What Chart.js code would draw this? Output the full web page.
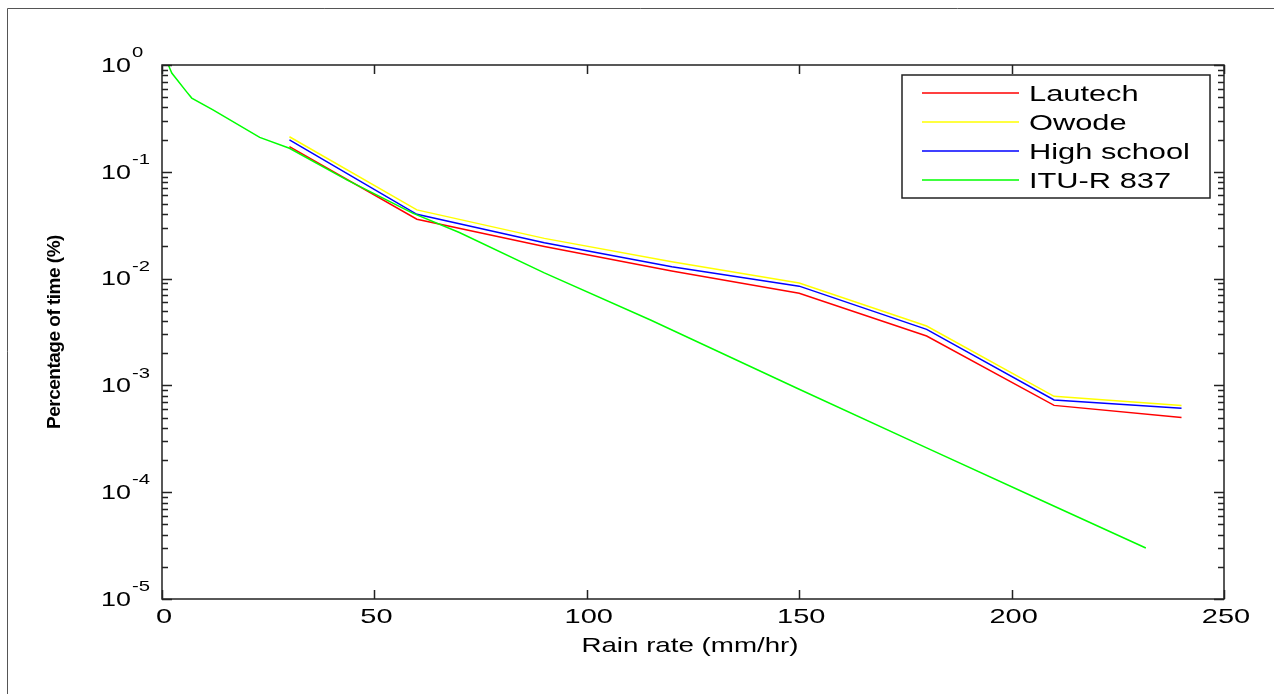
<!DOCTYPE html>
<html>
<head>
<meta charset="utf-8">
<script src="https://cdn.jsdelivr.net/npm/chart.js@4.4.1/dist/chart.umd.min.js"></script>
<style>
  html, body { margin: 0; padding: 0; background: #fff; }
  #wrap { width: 1274px; height: 694px; position: relative; }
</style>
</head>
<body>
<div id="wrap"><canvas id="rainChart"></canvas></div>
<script>
// rain rate exceedance curves, three stations + ITU-R P.837 model
const siteRates = [30, 60, 90, 120, 150, 180, 210, 240];
const lautech = [0.172, 0.036, 0.020, 0.0118, 0.0073, 0.0029, 0.00065, 0.0005];
const owode = [0.213, 0.044, 0.0238, 0.0144, 0.0091, 0.0036, 0.00079, 0.00065];
const highSchool = [0.199, 0.040, 0.0217, 0.0129, 0.0085, 0.00335, 0.00073, 0.00061];

const ituRates = [1.5, 2.3, 5.8, 7, 12, 23, 30, 43.5, 59, 70, 90, 115, 150, 180, 206.7, 231.6];
const ituPct = [1.0, 0.84, 0.56, 0.49, 0.38, 0.21, 0.166, 0.084, 0.041, 0.027, 0.0113, 0.0041, 0.00092, 0.00026, 0.000085, 0.00003];

const seriesNames = ['Lautech', 'Owode', 'High school', 'ITU-R 837'];
const xTicks = [0, 50, 100, 150, 200, 250];
const yDecades = [0, -1, -2, -3, -4, -5];

const FONT = "'Liberation Sans', Arial, sans-serif";
const pts = (xs, ys) => xs.map((x, i) => ({ x, y: ys[i] }));

// horizontally stretched text, the figure's fonts are wide
function wideText(ctx, str, x, y, align, font, sx) {
    ctx.save();
    ctx.font = font;
    ctx.textAlign = align;
    ctx.textBaseline = 'middle';
    ctx.translate(x, y);
    ctx.scale(sx, 1);
    ctx.fillText(str, 0, 0);
    ctx.restore();
}

const frameAndText = {
    id: 'frameAndText',
    beforeDraw(chart) {
        const ctx = chart.ctx;
        ctx.save();
        ctx.fillStyle = '#fff';
        ctx.fillRect(0, 0, chart.width, chart.height);
        // outer figure frame
        ctx.strokeStyle = '#555';
        ctx.lineWidth = 1;
        ctx.beginPath();
        ctx.moveTo(7.5, chart.height);
        ctx.lineTo(7.5, 8.5);
        ctx.lineTo(chart.width, 8.5);
        ctx.stroke();
        ctx.restore();
    },
    afterDraw(chart) {
        const ctx = chart.ctx;
        const { left, right, top, bottom } = chart.chartArea;
        const xs = chart.scales.x, ys = chart.scales.y;
        ctx.save();

        // axes box
        ctx.strokeStyle = '#222';
        ctx.lineWidth = 1.5;
        ctx.strokeRect(left, top, right - left, bottom - top);

        // inward x ticks, bottom and top
        ctx.beginPath();
        xTicks.forEach(v => {
            const px = Math.round(xs.getPixelForValue(v)) + 0.5;
            ctx.moveTo(px, bottom); ctx.lineTo(px, bottom - 9);
            ctx.moveTo(px, top); ctx.lineTo(px, top + 9);
        });
        // inward y ticks, decades and minors, left and right
        for (let k = -5; k <= 0; k++) {
            for (let m = 1; m <= 9; m++) {
                const v = m * Math.pow(10, k);
                if (v > 1) break;
                const py = Math.round(ys.getPixelForValue(v)) + 0.5;
                const len = m === 1 ? 10 : 6;
                ctx.moveTo(left, py); ctx.lineTo(left + len, py);
                ctx.moveTo(right, py); ctx.lineTo(right - len, py);
            }
        }
        ctx.stroke();

        ctx.fillStyle = '#000';
        // x tick labels
        xTicks.forEach(v => {
            wideText(ctx, String(v), xs.getPixelForValue(v) + 2, bottom + 18, 'center', '21px ' + FONT, 1.38);
        });
        // y tick labels with superscript exponents
        yDecades.forEach(e => {
            const py = ys.getPixelForValue(Math.pow(10, e));
            wideText(ctx, '10', 131, py + 1, 'right', '21px ' + FONT, 1.28);
            wideText(ctx, String(e), 132, py - 12, 'left', '15px ' + FONT, 1.35);
        });

        // axis titles
        wideText(ctx, 'Rain rate (mm/hr)', (left + right) / 2 - 3, 646, 'center', '21px ' + FONT, 1.32);

        ctx.save();
        ctx.translate(55, (top + bottom) / 2);
        ctx.rotate(-Math.PI / 2);
        ctx.letterSpacing = '-0.5px';
        ctx.font = 'bold 19px ' + FONT;
        ctx.textAlign = 'center';
        ctx.textBaseline = 'middle';
        ctx.fillText('Percentage of time (%)', 0, 0);
        ctx.restore();

        // legend box
        const bx = right - 322, by = top + 10, bw = 308, bh = 123;
        ctx.fillStyle = '#fff';
        ctx.fillRect(bx, by, bw, bh);
        ctx.strokeStyle = '#222';
        ctx.lineWidth = 1.5;
        ctx.strokeRect(bx, by, bw, bh);
        chart.data.datasets.forEach((ds, i) => {
            const ly = by + 18 + i * 29;
            ctx.strokeStyle = ds.borderColor;
            ctx.lineWidth = 1.5;
            ctx.beginPath();
            ctx.moveTo(bx + 20, ly);
            ctx.lineTo(bx + 117, ly);
            ctx.stroke();
            ctx.fillStyle = '#000';
            wideText(ctx, ds.label, bx + 127, ly + 2, 'left', '22px ' + FONT, 1.4);
        });
        ctx.restore();
    }
};

const lineStyle = (label, color, data, order) => ({
    label, data, order,
    borderColor: color,
    backgroundColor: color,
    borderWidth: 1.5,
    pointRadius: 0,
    tension: 0,
    fill: false
});

new Chart(document.getElementById('rainChart'), {
    type: 'line',
    data: {
        datasets: [
            lineStyle(seriesNames[0], '#ff0000', pts(siteRates, lautech), 3),
            lineStyle(seriesNames[1], '#ffff00', pts(siteRates, owode), 2),
            lineStyle(seriesNames[2], '#0000ff', pts(siteRates, highSchool), 1),
            lineStyle(seriesNames[3], '#00ff00', pts(ituRates, ituPct), 0)
        ]
    },
    options: {
        responsive: true,
        maintainAspectRatio: false,
        animation: false,
        layout: { padding: { top: 65, right: 50, left: 0, bottom: 0 } },
        plugins: { legend: { display: false }, tooltip: { enabled: false } },
        scales: {
            x: {
                type: 'linear', min: 0, max: 250,
                grid: { display: false, drawTicks: false },
                border: { display: false },
                ticks: { display: false, stepSize: 50 },
                afterFit: s => { s.height = 95; }
            },
            y: {
                type: 'logarithmic', min: 1e-5, max: 1,
                grid: { display: false, drawTicks: false },
                border: { display: false },
                ticks: { display: false },
                afterFit: s => { s.width = 162; }
            }
        }
    },
    plugins: [frameAndText]
});
</script>
</body>
</html>
